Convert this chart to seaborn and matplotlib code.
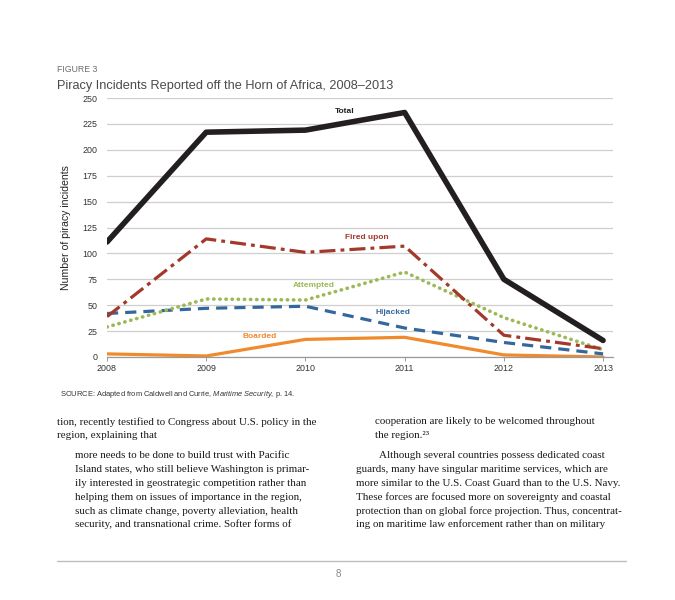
import numpy as np
import pandas as pd

import matplotlib

matplotlib.use("Agg")

import matplotlib.pyplot as plt
import seaborn as sns

# =====================================
# Data
# =====================================

years = [2008, 2009, 2010, 2011, 2012, 2013]
total = [111, 217, 219, 236, 75, 16]
fired_upon = [39, 114, 101, 107, 21, 8]
attempted = [29, 56, 55, 82, 38, 7]
hijacked = [42, 47, 49, 28, 14, 3]
boarded = [3, 1, 17, 19, 2, 0]

y_ticks = list(range(0, 251, 25))

series = pd.DataFrame(
    {
        "year": years,
        "Total": total,
        "Fired upon": fired_upon,
        "Attempted": attempted,
        "Hijacked": hijacked,
        "Boarded": boarded,
    }
)

left_column = [
    "tion, recently testified to Congress about U.S. policy in the",
    "region, explaining that",
    "more needs to be done to build trust with Pacific",
    "Island states, who still believe Washington is primar-",
    "ily interested in geostrategic competition rather than",
    "helping them on issues of importance in the region,",
    "such as climate change, poverty alleviation, health",
    "security, and transnational crime. Softer forms of",
]
right_column = [
    "cooperation are likely to be welcomed throughout",
    "the region.\u00b2\u00b3",
    "Although several countries possess dedicated coast",
    "guards, many have singular maritime services, which are",
    "more similar to the U.S. Coast Guard than to the U.S. Navy.",
    "These forces are focused more on sovereignty and coastal",
    "protection than on global force projection. Thus, concentrat-",
    "ing on maritime law enforcement rather than on military",
]

# =====================================
# Styling
# =====================================

sns.set_theme(style="white")
plt.rcParams["font.family"] = ["Liberation Sans", "DejaVu Sans"]
plt.rcParams["mathtext.fontset"] = "custom"
plt.rcParams["mathtext.rm"] = "Liberation Sans"
plt.rcParams["mathtext.it"] = "Liberation Sans:italic"

styles = {
    "Total": dict(color="#231f20", linewidth=4.0, linestyle="-"),
    "Fired upon": dict(color="#a3392b", linewidth=2.3, linestyle=(0, (5, 1.6, 1.2, 1.6))),
    "Attempted": dict(color="#9db955", linewidth=2.6, linestyle=(0, (0.1, 1.6)),
                      dash_capstyle="round"),
    "Hijacked": dict(color="#34679b", linewidth=2.3, linestyle=(0, (3.5, 2.2))),
    "Boarded": dict(color="#f08a2c", linewidth=2.3, linestyle="-"),
}

# label positions (data units) and colours
labels = {
    "Total": (2010.4, 236.5, "#231f20"),
    "Fired upon": (2010.62, 115.5, "#a3392b"),
    "Attempted": (2010.08, 69, "#9db955"),
    "Hijacked": (2010.88, 43, "#34679b"),
    "Boarded": (2009.54, 19.6, "#f08a2c"),
}

fig = plt.figure(figsize=(6.75, 6.0), dpi=100)
ax = fig.add_axes([107 / 675, 1 - 357 / 600, 506 / 675, 259 / 600])

for name in ["Boarded", "Hijacked", "Attempted", "Fired upon", "Total"]:
    sns.lineplot(data=series, x="year", y=name, ax=ax, **styles[name])

for name, (lx, ly, col) in labels.items():
    ax.text(lx, ly, name, color=col, fontsize=6.0, fontweight="bold",
            ha="center", va="center")

ax.set_xlim(2008, 2013.1)
ax.set_ylim(0, 250)
ax.set_yticks(y_ticks)
ax.set_xticks(years)
ax.set_xlabel("")
ax.set_ylabel("Number of piracy incidents", fontsize=7.6, color="#222222", labelpad=8)

ax.yaxis.grid(True, color="#cfcfcf", linewidth=0.9)
ax.set_axisbelow(True)
for side in ["top", "right", "left"]:
    ax.spines[side].set_visible(False)
ax.spines["bottom"].set_color("#9a9a9a")
ax.spines["bottom"].set_linewidth(0.9)

ax.tick_params(axis="y", length=0, pad=7, labelsize=6.4, labelcolor="#333333")
ax.tick_params(axis="x", length=3, width=0.7, color="#9a9a9a", pad=2,
               labelsize=6.4, labelcolor="#333333", bottom=True)

# =====================================
# Page text around the chart
# =====================================

fig.text(57 / 675, 1 - 70 / 600, "FIGURE 3", fontsize=6.3, color="#6d6d6d",
         ha="left", va="center")
fig.text(57 / 675, 1 - 86 / 600,
         "Piracy Incidents Reported off the Horn of Africa, 2008\u20132013",
         fontsize=9.2, color="#4a4a4a", ha="left", va="center")
fig.text(60 / 675, 1 - 394 / 600,
         "SOURCE: Adapted from Caldwell and Currie, $\\mathit{Maritime\\ Security}$, p. 14.",
         fontsize=5.4, color="#333333", ha="left", va="center")

body_font = ["Liberation Serif", "DejaVu Serif"]
line_y = [422, 436, 456, 470, 483, 497, 511, 524]
left_x = [57, 57, 75, 75, 75, 75, 75, 75]
right_x = [375, 375, 379, 356, 356, 356, 356, 356]

for text, y, x in zip(left_column, line_y, left_x):
    fig.text(x / 675, 1 - y / 600, text, fontsize=7.9, family=body_font,
             color="#1a1a1a", ha="left", va="center")
for text, y, x in zip(right_column, line_y, right_x):
    fig.text(x / 675, 1 - y / 600, text, fontsize=7.9, family=body_font,
             color="#1a1a1a", ha="left", va="center")

fig.add_artist(plt.Line2D([57 / 675, 626 / 675], [1 - 561 / 600, 1 - 561 / 600],
                          color="#bdbdbd", linewidth=1.0))
fig.text(338 / 675, 1 - 574 / 600, "8", fontsize=7, color="#888888",
         ha="center", va="center")

plt.savefig("out.png", dpi=100)
plt.close()
